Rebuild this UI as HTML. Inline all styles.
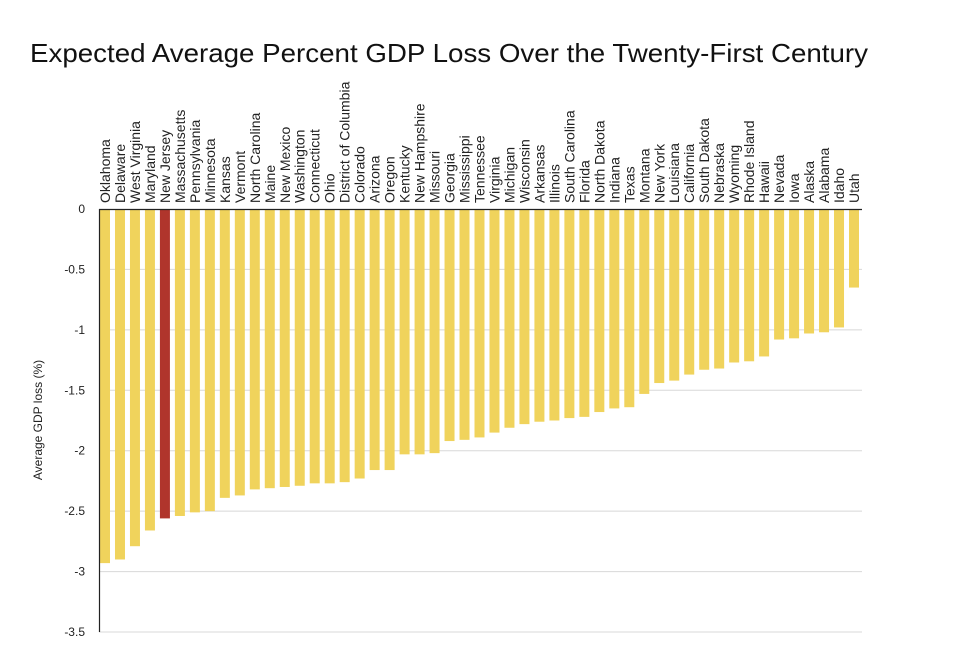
<!DOCTYPE html>
<html><head><meta charset="utf-8"><style>
body{margin:0;background:#fff;width:954px;height:672px;overflow:hidden}
svg{display:block}
</style></head><body>
<svg width="954" height="672" xmlns="http://www.w3.org/2000/svg" font-family="Liberation Sans, sans-serif">
<text x="30" y="62" font-size="26" fill="#111" textLength="838" lengthAdjust="spacingAndGlyphs">Expected Average Percent GDP Loss Over the Twenty-First Century</text>
<g id="grid" stroke="#d8d8d8" stroke-width="1"></g>
<g id="bars"></g>
<g id="labels" font-size="14" fill="#222"></g>
<g id="ticks" font-size="12" fill="#222" text-anchor="end"></g>
<line x1="99.5" y1="209" x2="99.5" y2="632" stroke="#222" stroke-width="1.2"/>
<line x1="99" y1="209.5" x2="862" y2="209.5" stroke="#222" stroke-width="1.2"/>
<text transform="translate(42,420) rotate(-90)" font-size="12" text-anchor="middle" fill="#222">Average GDP loss (%)</text>
</svg>
<script>
const data=[["Oklahoma",2.93],["Delaware",2.90],["West Virginia",2.79],["Maryland",2.66],["New Jersey",2.56],["Massachusetts",2.54],["Pennsylvania",2.51],["Minnesota",2.50],["Kansas",2.39],["Vermont",2.37],["North Carolina",2.32],["Maine",2.31],["New Mexico",2.30],["Washington",2.29],["Connecticut",2.27],["Ohio",2.27],["District of Columbia",2.26],["Colorado",2.23],["Arizona",2.16],["Oregon",2.16],["Kentucky",2.03],["New Hampshire",2.03],["Missouri",2.02],["Georgia",1.92],["Mississippi",1.91],["Tennessee",1.89],["Virginia",1.85],["Michigan",1.81],["Wisconsin",1.78],["Arkansas",1.76],["Illinois",1.75],["South Carolina",1.73],["Florida",1.72],["North Dakota",1.68],["Indiana",1.65],["Texas",1.64],["Montana",1.53],["New York",1.44],["Louisiana",1.42],["California",1.37],["South Dakota",1.33],["Nebraska",1.32],["Wyoming",1.27],["Rhode Island",1.26],["Hawaii",1.22],["Nevada",1.08],["Iowa",1.07],["Alaska",1.03],["Alabama",1.02],["Idaho",0.98],["Utah",0.65]];
const NS="http://www.w3.org/2000/svg";
const y0=209,k=120.86;
function el(p,t,a,txt){const e=document.createElementNS(NS,t);for(const n in a)e.setAttribute(n,a[n]);if(txt!==undefined)e.textContent=txt;document.getElementById(p).appendChild(e);}
for(let i=1;i<=7;i++){const y=y0+i*0.5*k;el("grid","line",{x1:99,x2:862,y1:y,y2:y});}
const tl=["0","-0.5","-1","-1.5","-2","-2.5","-3","-3.5"];
tl.forEach((t,i)=>el("ticks","text",{x:85,y:y0+i*0.5*k+4},t));
data.forEach((d,i)=>{const cx=105+i*14.98;
el("bars","rect",{x:cx-5,y:y0,width:10,height:d[1]*k,fill:d[0]=="New Jersey"?"#b0352c":"#f0d35c"});
el("labels","text",{transform:`translate(${cx+5},203) rotate(-90)`},d[0]);});
</script>
</body></html>
